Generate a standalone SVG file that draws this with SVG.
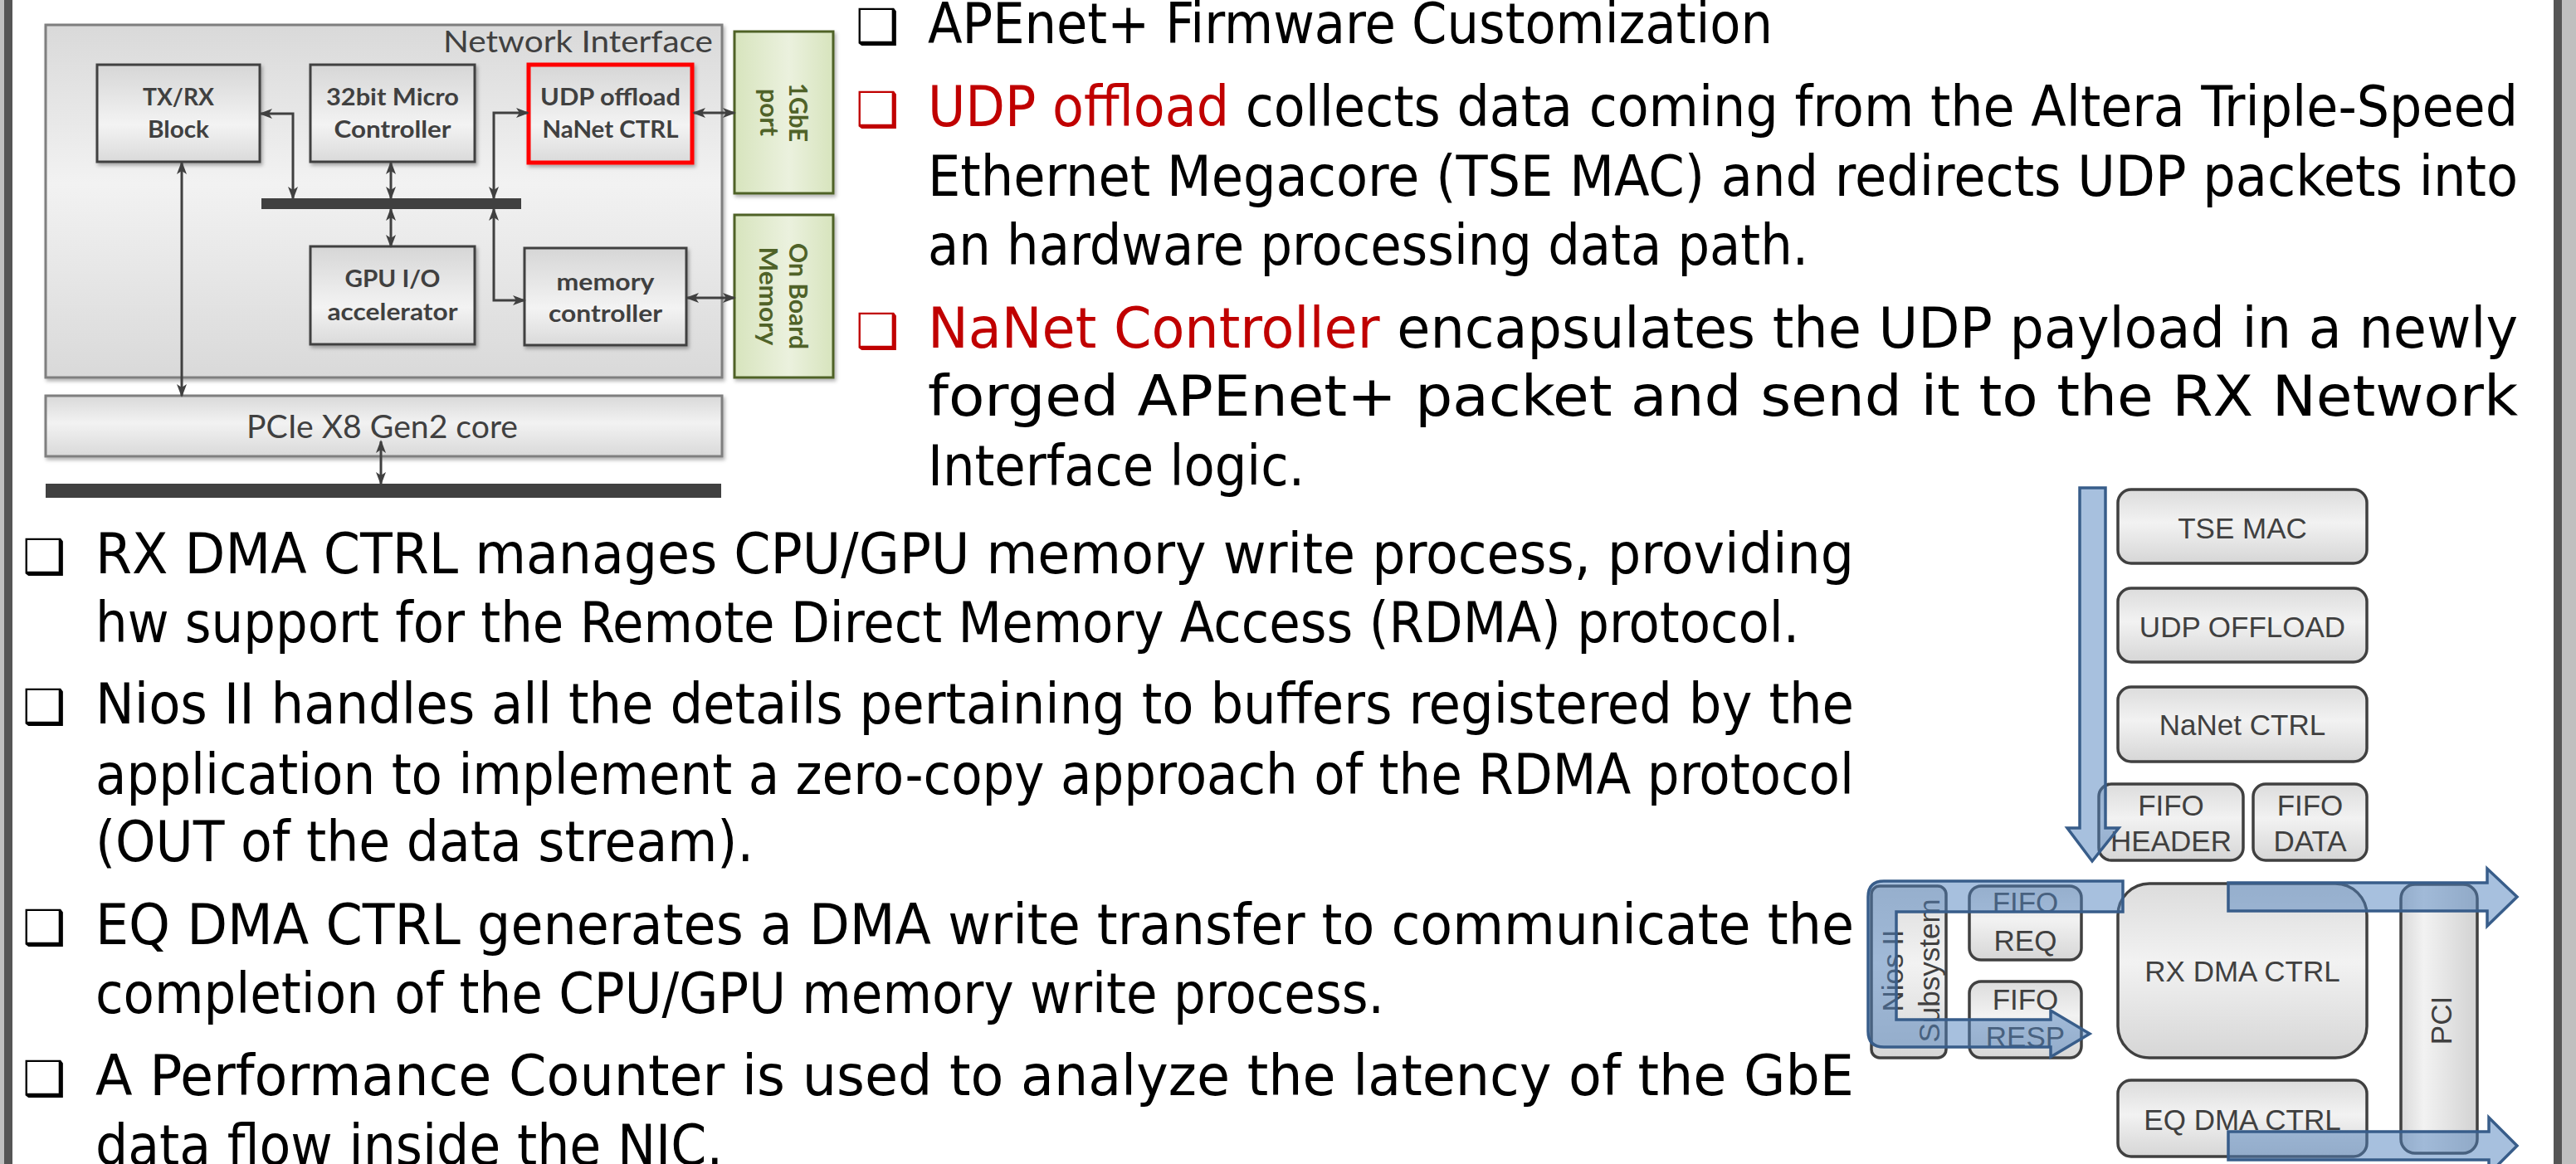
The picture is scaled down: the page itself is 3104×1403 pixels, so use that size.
<svg xmlns="http://www.w3.org/2000/svg" width="3104" height="1403" viewBox="0 0 3104 1403">
<defs>
<style>
.bx{stroke:#404040;stroke-width:3;fill:url(#gv)}
.lbl{font-family:Lato,"Open Sans",sans-serif;font-weight:bold;font-size:29px;fill:#404040;text-anchor:middle}
.grn{font-family:Lato,"Open Sans",sans-serif;font-weight:bold;font-size:31px;fill:#4f6228;text-anchor:middle}
.con{fill:none;stroke:#404040;stroke-width:3;marker-start:url(#ah);marker-end:url(#ah)}
.para{font-family:"DejaVu Sans Condensed","DejaVu Sans",sans-serif;font-size:67px;fill:#000}
.red{fill:#c00000}
.bul{font-family:"DejaVu Sans",sans-serif;font-size:58px}
.rb{stroke:#404040;stroke-width:3.5;fill:url(#gr)}
.rt{font-family:"Liberation Sans",Arial,sans-serif;font-size:35px;fill:#404040;text-anchor:middle}
.flow{fill:#4f81bd;fill-opacity:0.5;stroke:#385d8a;stroke-width:3.5;stroke-linejoin:miter}
</style>
<linearGradient id="gv" x1="0" y1="0" x2="0" y2="1">
<stop offset="0" stop-color="#d6d6d6"/><stop offset="0.62" stop-color="#f3f3f3"/><stop offset="1" stop-color="#dadada"/>
</linearGradient>
<linearGradient id="gni" x1="0" y1="0" x2="0" y2="1">
<stop offset="0" stop-color="#d9d9d9"/><stop offset="0.45" stop-color="#f2f2f2"/><stop offset="1" stop-color="#d9d9d9"/>
</linearGradient>
<linearGradient id="ggr" x1="0" y1="0" x2="1" y2="0">
<stop offset="0" stop-color="#d7e4bd"/><stop offset="0.55" stop-color="#ebf1de"/><stop offset="1" stop-color="#d7e4bd"/>
</linearGradient>
<linearGradient id="gr" x1="0" y1="0" x2="0" y2="1">
<stop offset="0" stop-color="#dcdcdc"/><stop offset="0.45" stop-color="#f2f2f2"/><stop offset="1" stop-color="#d6d6d6"/>
</linearGradient>
<linearGradient id="gpci" x1="0" y1="0" x2="1" y2="0">
<stop offset="0" stop-color="#d9d9d9"/><stop offset="0.3" stop-color="#f2f2f2"/><stop offset="1" stop-color="#d2d2d2"/>
</linearGradient>
<filter id="sh" x="-10%" y="-10%" width="130%" height="140%">
<feDropShadow dx="2" dy="3" stdDeviation="2" flood-color="#000" flood-opacity="0.3"/>
</filter>
<marker id="ah" viewBox="0 0 16 12" refX="14" refY="6" markerWidth="16" markerHeight="12" markerUnits="userSpaceOnUse" orient="auto-start-reverse">
<path d="M0,0 L16,6 L0,12 L4,6 z" fill="#404040"/>
</marker>
</defs>
<rect width="3104" height="1403" fill="#ffffff"/>
<!-- page frame -->
<rect x="0" y="0" width="5" height="1403" fill="#c0c0c0"/>
<rect x="5" y="0" width="10" height="1403" fill="#555555"/>
<rect x="3077" y="0" width="10" height="1403" fill="#555555"/>
<rect x="3087" y="0" width="17" height="1403" fill="#bfbfbf"/>

<!-- ===== Left block diagram ===== -->
<g id="network-interface">
<rect x="55" y="30" width="815" height="425" fill="url(#gni)" stroke="#7f7f7f" stroke-width="3" filter="url(#sh)"/>
<text x="859" y="63" font-family="Lato,'Open Sans',sans-serif" font-size="37" fill="#404040" text-anchor="end" textLength="325" lengthAdjust="spacingAndGlyphs">Network Interface</text>
</g>
<g id="txrx-block">
<rect class="bx" x="117" y="78" width="196" height="117" filter="url(#sh)"/>
<text class="lbl" x="215" y="127" textLength="86" lengthAdjust="spacingAndGlyphs">TX/RX</text>
<text class="lbl" x="215" y="166" textLength="74" lengthAdjust="spacingAndGlyphs">Block</text>
</g>
<g id="micro-controller">
<rect class="bx" x="374" y="78" width="198" height="117" filter="url(#sh)"/>
<text class="lbl" x="473" y="127" textLength="160" lengthAdjust="spacingAndGlyphs">32bit Micro</text>
<text class="lbl" x="473" y="166" textLength="141" lengthAdjust="spacingAndGlyphs">Controller</text>
</g>
<g id="udp-offload">
<rect x="637" y="78" width="197" height="118" fill="url(#gv)" stroke="#ff0000" stroke-width="5" filter="url(#sh)"/>
<text class="lbl" x="735.5" y="126.5" textLength="169" lengthAdjust="spacingAndGlyphs">UDP offload</text>
<text class="lbl" x="735.5" y="166" textLength="164" lengthAdjust="spacingAndGlyphs">NaNet CTRL</text>
</g>
<g id="gpu-io">
<rect class="bx" x="374" y="297" width="198" height="118" filter="url(#sh)"/>
<text class="lbl" x="473" y="346" textLength="115" lengthAdjust="spacingAndGlyphs">GPU I/O</text>
<text class="lbl" x="473" y="385.5" textLength="157" lengthAdjust="spacingAndGlyphs">accelerator</text>
</g>
<g id="memory-controller">
<rect class="bx" x="632" y="299" width="195" height="117" filter="url(#sh)"/>
<text class="lbl" x="729.5" y="350" textLength="118" lengthAdjust="spacingAndGlyphs">memory</text>
<text class="lbl" x="729.5" y="387.5" textLength="137" lengthAdjust="spacingAndGlyphs">controller</text>
</g>
<g id="internal-bus">
<rect x="315" y="239" width="313" height="13" fill="#404040"/>
</g>
<g id="pcie-core">
<rect x="55" y="477" width="815" height="73" fill="url(#gni)" stroke="#7f7f7f" stroke-width="3" filter="url(#sh)"/>
<text x="460.5" y="528" font-family="Lato,'Open Sans',sans-serif" font-size="38" fill="#404040" text-anchor="middle" textLength="327" lengthAdjust="spacingAndGlyphs">PCIe X8 Gen2 core</text>
</g>
<g id="pci-bus">
<rect x="55" y="583" width="814" height="17" fill="#404040"/>
</g>
<g id="gbe-port">
<rect x="885" y="38" width="119" height="195" fill="url(#ggr)" stroke="#4f6228" stroke-width="3" filter="url(#sh)"/>
<g transform="translate(944.5,135.5) rotate(90)">
<text class="grn" x="0" y="-6.5" textLength="71" lengthAdjust="spacingAndGlyphs">1GbE</text>
<text class="grn" x="0" y="29" textLength="57" lengthAdjust="spacingAndGlyphs">port</text>
</g>
</g>
<g id="on-board-memory">
<rect x="885" y="259" width="119" height="196" fill="url(#ggr)" stroke="#4f6228" stroke-width="3" filter="url(#sh)"/>
<g transform="translate(944.5,357) rotate(90)">
<text class="grn" x="0" y="-6.5" textLength="128" lengthAdjust="spacingAndGlyphs">On Board</text>
<text class="grn" x="0" y="30" textLength="119" lengthAdjust="spacingAndGlyphs">Memory</text>
</g>
</g>
<g id="connectors">
<path class="con" d="M314,137 H353 V239"/>
<path class="con" d="M471,196 V239"/>
<path class="con" d="M471,252 V297"/>
<path class="con" d="M595,239 V136 H636"/>
<path class="con" d="M595,252 V362 H632"/>
<path class="con" d="M836,136 H885"/>
<path class="con" d="M828,359 H885"/>
<path class="con" d="M219,196 V477"/>
<path class="con" d="M459,532 V583"/>
</g>

<!-- ===== Text paragraphs (top right) ===== -->
<g id="text-top">
<text class="para bul" x="1031" y="52">❑</text>
<text class="para" x="1118" y="52" textLength="1018" lengthAdjust="spacingAndGlyphs">APEnet+ Firmware Customization</text>
<text class="para bul red" x="1031" y="152">❑</text>
<text class="para" x="1118" y="152" textLength="1916" lengthAdjust="spacingAndGlyphs"><tspan class="red">UDP offload</tspan> collects data coming from the Altera Triple-Speed</text>
<text class="para" x="1118" y="236" textLength="1916" lengthAdjust="spacingAndGlyphs">Ethernet Megacore (TSE MAC) and redirects UDP packets into</text>
<text class="para" x="1118" y="319" textLength="1061" lengthAdjust="spacingAndGlyphs">an hardware processing data path.</text>
<text class="para bul red" x="1031" y="419">❑</text>
<text class="para" x="1118" y="419" textLength="1916" lengthAdjust="spacingAndGlyphs"><tspan class="red">NaNet Controller</tspan> encapsulates the UDP payload in a newly</text>
<text class="para" x="1118" y="501" textLength="1916" lengthAdjust="spacingAndGlyphs">forged APEnet+ packet and send it to the RX Network</text>
<text class="para" x="1118" y="585" textLength="454" lengthAdjust="spacingAndGlyphs">Interface logic.</text>
</g>

<!-- ===== Text paragraphs (bottom left) ===== -->
<g id="text-bottom">
<text class="para bul" x="27" y="691">❑</text>
<text class="para" x="115" y="691" textLength="2119" lengthAdjust="spacingAndGlyphs">RX DMA CTRL manages CPU/GPU memory write process, providing</text>
<text class="para" x="115" y="774" textLength="2053" lengthAdjust="spacingAndGlyphs">hw support for the Remote Direct Memory Access (RDMA) protocol.</text>
<text class="para bul" x="27" y="872">❑</text>
<text class="para" x="115" y="872" textLength="2119" lengthAdjust="spacingAndGlyphs">Nios II handles all the details pertaining to buffers registered by the</text>
<text class="para" x="115" y="957" textLength="2119" lengthAdjust="spacingAndGlyphs">application to implement a zero-copy approach of the RDMA protocol</text>
<text class="para" x="115" y="1038" textLength="793" lengthAdjust="spacingAndGlyphs">(OUT of the data stream).</text>
<text class="para bul" x="27" y="1138">❑</text>
<text class="para" x="115" y="1138" textLength="2119" lengthAdjust="spacingAndGlyphs">EQ DMA CTRL generates a DMA write transfer to communicate the</text>
<text class="para" x="115" y="1221" textLength="1553" lengthAdjust="spacingAndGlyphs">completion of the CPU/GPU memory write process.</text>
<text class="para bul" x="27" y="1320">❑</text>
<text class="para" x="115" y="1320" textLength="2119" lengthAdjust="spacingAndGlyphs">A Performance Counter is used to analyze the latency of the GbE</text>
<text class="para" x="115" y="1404" textLength="756" lengthAdjust="spacingAndGlyphs">data flow inside the NIC.</text>
</g>

<!-- ===== Right data-path diagram ===== -->
<g id="tse-mac">
<rect class="rb" x="2552" y="590" width="300" height="89" rx="16"/>
<text class="rt" x="2702" y="649">TSE MAC</text>
</g>
<g id="udp-offload-r">
<rect class="rb" x="2552" y="709" width="300" height="89" rx="16"/>
<text class="rt" x="2702" y="768">UDP OFFLOAD</text>
</g>
<g id="nanet-ctrl">
<rect class="rb" x="2552" y="828" width="300" height="90" rx="16"/>
<text class="rt" x="2702" y="886">NaNet CTRL</text>
</g>
<g id="fifo-header">
<rect class="rb" x="2529" y="945" width="174" height="92" rx="15"/>
<text class="rt" x="2616" y="983">FIFO</text>
<text class="rt" x="2616" y="1026">HEADER</text>
</g>
<g id="fifo-data">
<rect class="rb" x="2715" y="945" width="137" height="92" rx="15"/>
<text class="rt" x="2783.5" y="983">FIFO</text>
<text class="rt" x="2783.5" y="1026">DATA</text>
</g>
<g id="rx-dma-ctrl">
<rect class="rb" x="2552" y="1065" width="300" height="210" rx="38"/>
<text class="rt" x="2702" y="1183">RX DMA CTRL</text>
</g>
<g id="eq-dma-ctrl">
<rect class="rb" x="2552" y="1302" width="300" height="92" rx="16"/>
<text class="rt" x="2702" y="1362">EQ DMA CTRL</text>
</g>
<g id="pci">
<rect x="2893" y="1066" width="92" height="324" rx="17" fill="url(#gpci)" stroke="#404040" stroke-width="3.5"/>
<text class="rt" transform="translate(2941,1230) rotate(-90)" x="0" y="13">PCI</text>
</g>
<g id="nios-subsystem">
<rect class="rb" x="2255" y="1068" width="90" height="207" rx="10"/>
<g transform="translate(2300,1170) rotate(-90)">
<text class="rt" x="0" y="-7">Nios II</text>
<text class="rt" x="0" y="37">Subsystem</text>
</g>
</g>
<g id="fifo-req">
<rect class="rb" x="2373" y="1068" width="135" height="89" rx="14"/>
<text class="rt" x="2440.5" y="1100">FIFO</text>
<text class="rt" x="2440.5" y="1146">REQ</text>
</g>
<g id="fifo-resp">
<rect class="rb" x="2373" y="1183" width="135" height="92" rx="14"/>
<text class="rt" x="2440.5" y="1217">FIFO</text>
<text class="rt" x="2440.5" y="1262">RESP</text>
</g>
<g id="flow-arrows">
<path class="flow" d="M2506,588 H2537 V998 H2553 L2521,1038 L2491,998 H2506 Z"/>
<path class="flow" d="M2558,1062 H2270 Q2251,1062 2251,1081 V1243 Q2251,1262 2270,1262 H2471 V1274 L2518,1246 L2471,1218 V1229 H2285 V1099 H2558 Z"/>
<path class="flow" d="M2685,1064 H2997 V1047 L3033,1081 L2997,1116 V1098 H2685 Z"/>
<path class="flow" d="M2685,1364 H2999 V1347 L3033,1381 L2999,1415 V1398 H2685 Z"/>
</g>
</svg>
